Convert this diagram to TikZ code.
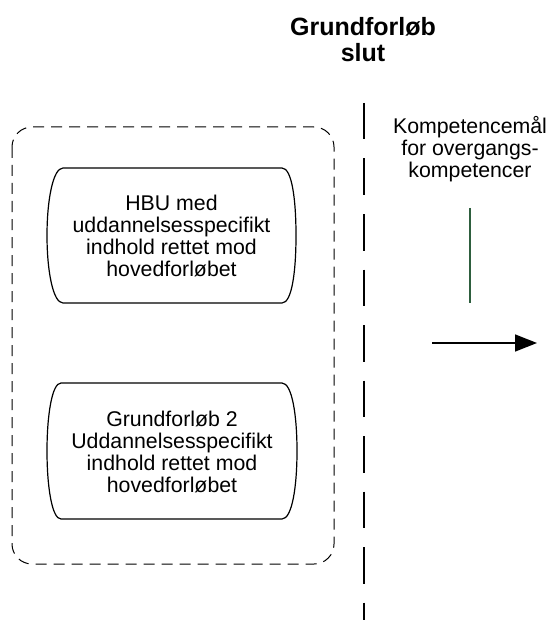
\documentclass[tikz,border=0pt]{standalone}
\usepackage{fontspec}
\setmainfont{Liberation Sans}
\usetikzlibrary{arrows.meta}
\definecolor{lineGreen}{RGB}{46,94,62}
\tikzset{
  txt/.style={align=center, inner sep=0pt, font=\fontsize{21.3}{21.7}\selectfont},
  titletxt/.style={align=center, inner sep=0pt, font=\fontsize{25}{26}\selectfont\bfseries},
  bulge/.style={draw=black, line width=1.2pt},
  group/.style={draw=black, line width=1pt, dash pattern=on 11pt off 7pt, rounded corners=20pt},
  divider/.style={draw=black, line width=1.3pt, dash pattern=on 36.5pt off 19pt},
  tick/.style={draw=lineGreen, line width=1.2pt},
  flow/.style={draw=black, line width=1.5pt, -{Triangle[length=22pt,width=17pt]}}
}
\begin{document}
\begin{tikzpicture}[x=1pt,y=-1pt]
\useasboundingbox (0,0) rectangle (551,620);
% title
\node[titletxt] (title) at (363,40) {Grundforløb\\slut};
% divider
\coordinate (divtop) at (364,103);
\coordinate (divbot) at (364,620);
\draw[divider] (divtop) -- (divbot);
% group
\draw[group] (12,127) rectangle (334,564);
% box 1
\draw[bulge] (63,168) -- (282,168) .. controls (292,168) and (296,200) .. (296,235.5)
  .. controls (296,271) and (292,303) .. (282,303) -- (63,303)
  .. controls (53,303) and (47,271) .. (47,235.5)
  .. controls (47,200) and (53,168) .. (63,168) -- cycle;
\node[txt] (hbu) at (171.5,236) {HBU med\\uddannelsesspecifikt\\indhold rettet mod\\hovedforløbet};
% box 2
\draw[bulge] (61,383) -- (282,383) .. controls (292,383) and (297,415) .. (297,451)
  .. controls (297,487) and (292,519) .. (282,519) -- (61,519)
  .. controls (52,519) and (47,487) .. (47,451)
  .. controls (47,415) and (52,383) .. (61,383) -- cycle;
\node[txt] (gf2) at (172,452) {Grundforløb 2\\Uddannelsesspecifikt\\indhold rettet mod\\hovedforløbet};
% right side
\node[txt] (komp) at (470,149) {Kompetencemål\\for overgangs-\\kompetencer};
\coordinate (gtop) at (470,208);
\coordinate (gbot) at (470,303);
\draw[tick] (gtop) -- (gbot);
\coordinate (astart) at (432,343);
\coordinate (aend) at (537,343);
\draw[flow] (astart) -- (aend);
\end{tikzpicture}
\end{document}
